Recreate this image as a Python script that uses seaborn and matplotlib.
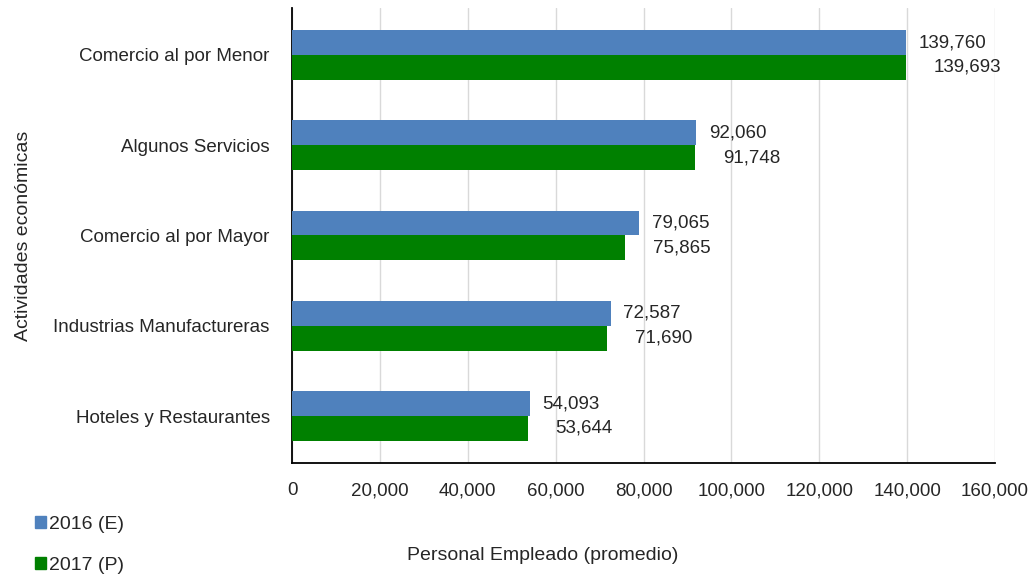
import pandas as pd
import numpy as np
import matplotlib.pyplot as plt
import seaborn as sns
from matplotlib.patches import Patch

# data
actividades = ['Comercio al por Menor', 'Algunos Servicios', 'Comercio al por Mayor',
               'Industrias Manufactureras', 'Hoteles y Restaurantes']
valores_2016 = [139760, 92060, 79065, 72587, 54093]
valores_2017 = [139693, 91748, 75865, 71690, 53644]
series = ['2016 (E)', '2017 (P)']
xticks = [0, 20000, 40000, 60000, 80000, 100000, 120000, 140000, 160000]

df = pd.DataFrame({
    'Actividad': actividades * 2,
    'Serie': [series[0]] * 5 + [series[1]] * 5,
    'Personal': valores_2016 + valores_2017,
})

sns.set_style('white')
plt.rcParams['font.family'] = ['Liberation Sans', 'DejaVu Sans']
plt.rcParams['font.size'] = 13.5

fig = plt.figure(figsize=(10.32, 5.77), dpi=100)
ax = fig.add_axes([292 / 1032, 1 - 463 / 577, 703 / 1032, 455 / 577])

colores = {'2016 (E)': '#4F81BD', '2017 (P)': '#008000'}
sns.barplot(data=df, y='Actividad', x='Personal', hue='Serie', order=actividades,
            hue_order=series, palette=colores, orient='h', width=0.55,
            saturation=1, linewidth=0, ax=ax, legend=False, zorder=3)

ax.set_xlim(0, 160000)
ax.set_ylim(4.52, -0.52)
ax.set_xticks(xticks)
ax.set_xticklabels([f'{v:,}' for v in xticks], fontsize=13.5)
ax.tick_params(axis='x', length=0, pad=14)
ax.tick_params(axis='y', length=0, pad=16, labelsize=13.5)
ax.grid(axis='x', color='#d9d9d9', linewidth=1, zorder=0)
ax.set_axisbelow(True)
for s in ['top', 'right']:
    ax.spines[s].set_visible(False)
for s in ['left', 'bottom']:
    ax.spines[s].set_color('black')
    ax.spines[s].set_linewidth(1.3)

ax.bar_label(ax.containers[0], labels=[f'{v:,}' for v in valores_2016],
             padding=9, fontsize=13.5)
ax.bar_label(ax.containers[1], labels=[f'{v:,}' for v in valores_2017],
             padding=20, fontsize=13.5)

ax.set_xlabel('')
ax.set_ylabel('Actividades económicas', fontsize=14)
ax.yaxis.set_label_coords(-0.37, 0.5)
fig.text(543 / 1032, 1 - 555 / 577, 'Personal Empleado (promedio)',
         ha='center', va='center', fontsize=14)

handles = [Patch(color=colores[s]) for s in series]
fig.legend(handles, series, loc='upper left', bbox_to_anchor=(0.026, 0.12),
           frameon=False, handlelength=0.6, handleheight=0.6, handletextpad=0.15,
           labelspacing=1.25, fontsize=14, borderaxespad=0)

plt.savefig('out.png', dpi=100)
